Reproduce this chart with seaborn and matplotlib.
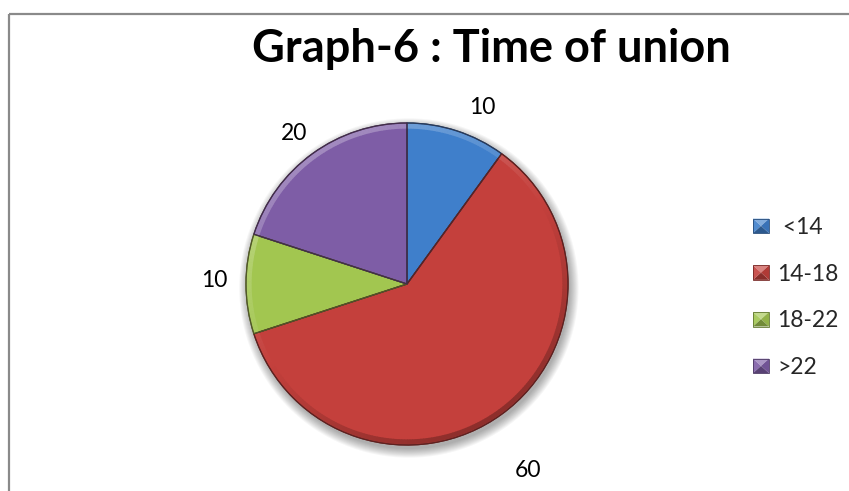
import numpy as np
import matplotlib
matplotlib.use("Agg")
import matplotlib.pyplot as plt
import seaborn as sns
from matplotlib.patches import Circle, Wedge, Polygon, Rectangle
from matplotlib.lines import Line2D
from matplotlib.legend_handler import HandlerBase

# ---- data ----
categories = ["<14", "14-18", "18-22", ">22"]
values = [10, 60, 10, 20]
legend_labels = [" <14", "14-18", "18-22", ">22"]
title_text = "Graph-6 : Time of union"

sns.set_theme(style="white")
plt.rcParams["font.family"] = ["Lato", "DejaVu Sans"]

palette = ["#3F7FCB", "#C4403C", "#A2C650", "#7E5DA6"]
sns.set_palette(palette)
colors = sns.color_palette(n_colors=len(values))


def blend(c, other, t):
    c = np.array(c[:3]); o = np.array(other)
    return tuple(c * (1 - t) + o * t)


W, H = 849, 491
fig = plt.figure(figsize=(W / 100, H / 100), dpi=100)
fig.patch.set_facecolor("white")

# chart-area frame (top and left edges)
frame_kw = dict(transform=fig.transFigure, color="#8a8a8a", lw=1.6, solid_capstyle="butt")
fig.add_artist(Line2D([8.5 / W, 8.5 / W], [0, 1 - 14 / H], **frame_kw))
fig.add_artist(Line2D([8.5 / W, 1], [1 - 14 / H, 1 - 14 / H], **frame_kw))

# title
fig.text(491 / W, 1 - 62 / H, title_text, ha="center", va="baseline",
         fontsize=32.5, fontweight="bold", color="black")

# pie axes
cx, cy, r = 407, 284, 161
ax = fig.add_axes([(cx - r) / W, 1 - (cy + r) / H, 2 * r / W, 2 * r / H])

# soft drop shadow
for k in range(10):
    ax.add_patch(Circle((0.012, -0.025), 1.0 + 0.006 * k, color="black",
                        alpha=0.035, lw=0, zorder=0, clip_on=False))

wedges, _ = ax.pie(values, colors=colors, startangle=90, counterclock=False,
                   radius=1, wedgeprops=dict(linewidth=0.9))
ax.set_xlim(-1, 1)
ax.set_ylim(-1, 1)
ax.set_aspect("equal")
ax.axis("off")

for w, c in zip(wedges, colors):
    w.set_edgecolor(blend(c, (0.15, 0.1, 0.1), 0.55))
    w.set_zorder(2)
    w.set_clip_on(False)

# bevel rim: light toward upper left, dark toward lower right
for w, c in zip(wedges, colors):
    t1, t2 = sorted([w.theta1, w.theta2])
    for a in np.arange(t1, t2, 1.0):
        b = min(a + 1.2, t2)
        shade = np.cos(np.deg2rad(a - 120))
        if shade > 0:
            col = blend(c, (1, 1, 1), 0.28 * shade)
        else:
            col = blend(c, (0, 0, 0), 0.28 * -shade)
        ax.add_patch(Wedge((0, 0), 0.995, a, b, width=0.03, color=col, lw=0,
                           zorder=3, clip_on=False))
    ax.add_patch(Wedge((0, 0), 1.0, t1, t2, fill=False,
                       ec=blend(c, (0.1, 0.05, 0.05), 0.6), lw=0.9, zorder=4,
                       clip_on=False))

# value labels outside slices
label_dist = [1.19, 1.38, 1.20, 1.17]
label_nudge = [-5, -3, -1, 1]
for w, v, d, n in zip(wedges, values, label_dist, label_nudge):
    mid = np.deg2rad((w.theta1 + w.theta2) / 2 + n)
    ax.text(d * np.cos(mid), d * np.sin(mid), str(v), ha="center", va="center",
            fontsize=16.5, color="black", clip_on=False)


# beveled square legend keys
class BevelHandler(HandlerBase):
    def create_artists(self, legend, orig, xd, yd, width, height, fontsize, trans):
        c = orig.get_facecolor()
        x0, y0, x1, y1 = -xd, -yd, -xd + width, -yd + height
        xm, ym = (x0 + x1) / 2, (y0 + y1) / 2
        faces = [
            ([(x0, y1), (x1, y1), (xm, ym)], blend(c, (1, 1, 1), 0.35)),
            ([(x0, y0), (x0, y1), (xm, ym)], blend(c, (1, 1, 1), 0.1)),
            ([(x1, y0), (x1, y1), (xm, ym)], blend(c, (0, 0, 0), 0.1)),
            ([(x0, y0), (x1, y0), (xm, ym)], blend(c, (0, 0, 0), 0.3)),
        ]
        arts = [Polygon(p, closed=True, fc=fc, ec="none", transform=trans) for p, fc in faces]
        arts.append(Rectangle((x0, y0), width, height, fill=False,
                              ec=blend(c, (0, 0, 0), 0.4), lw=0.6, transform=trans))
        return arts


handles = [Rectangle((0, 0), 1, 1, fc=c) for c in colors]
fig.legend(handles, legend_labels, handler_map={Rectangle: BevelHandler()},
           loc="center left", bbox_to_anchor=(753 / W, 1 - 297.5 / H),
           frameon=False, fontsize=16.5, borderpad=0, borderaxespad=0,
           handlelength=0.7, handleheight=0.6, handletextpad=0.35,
           labelspacing=1.12)

fig.savefig("out.png", dpi=100, facecolor="white")
